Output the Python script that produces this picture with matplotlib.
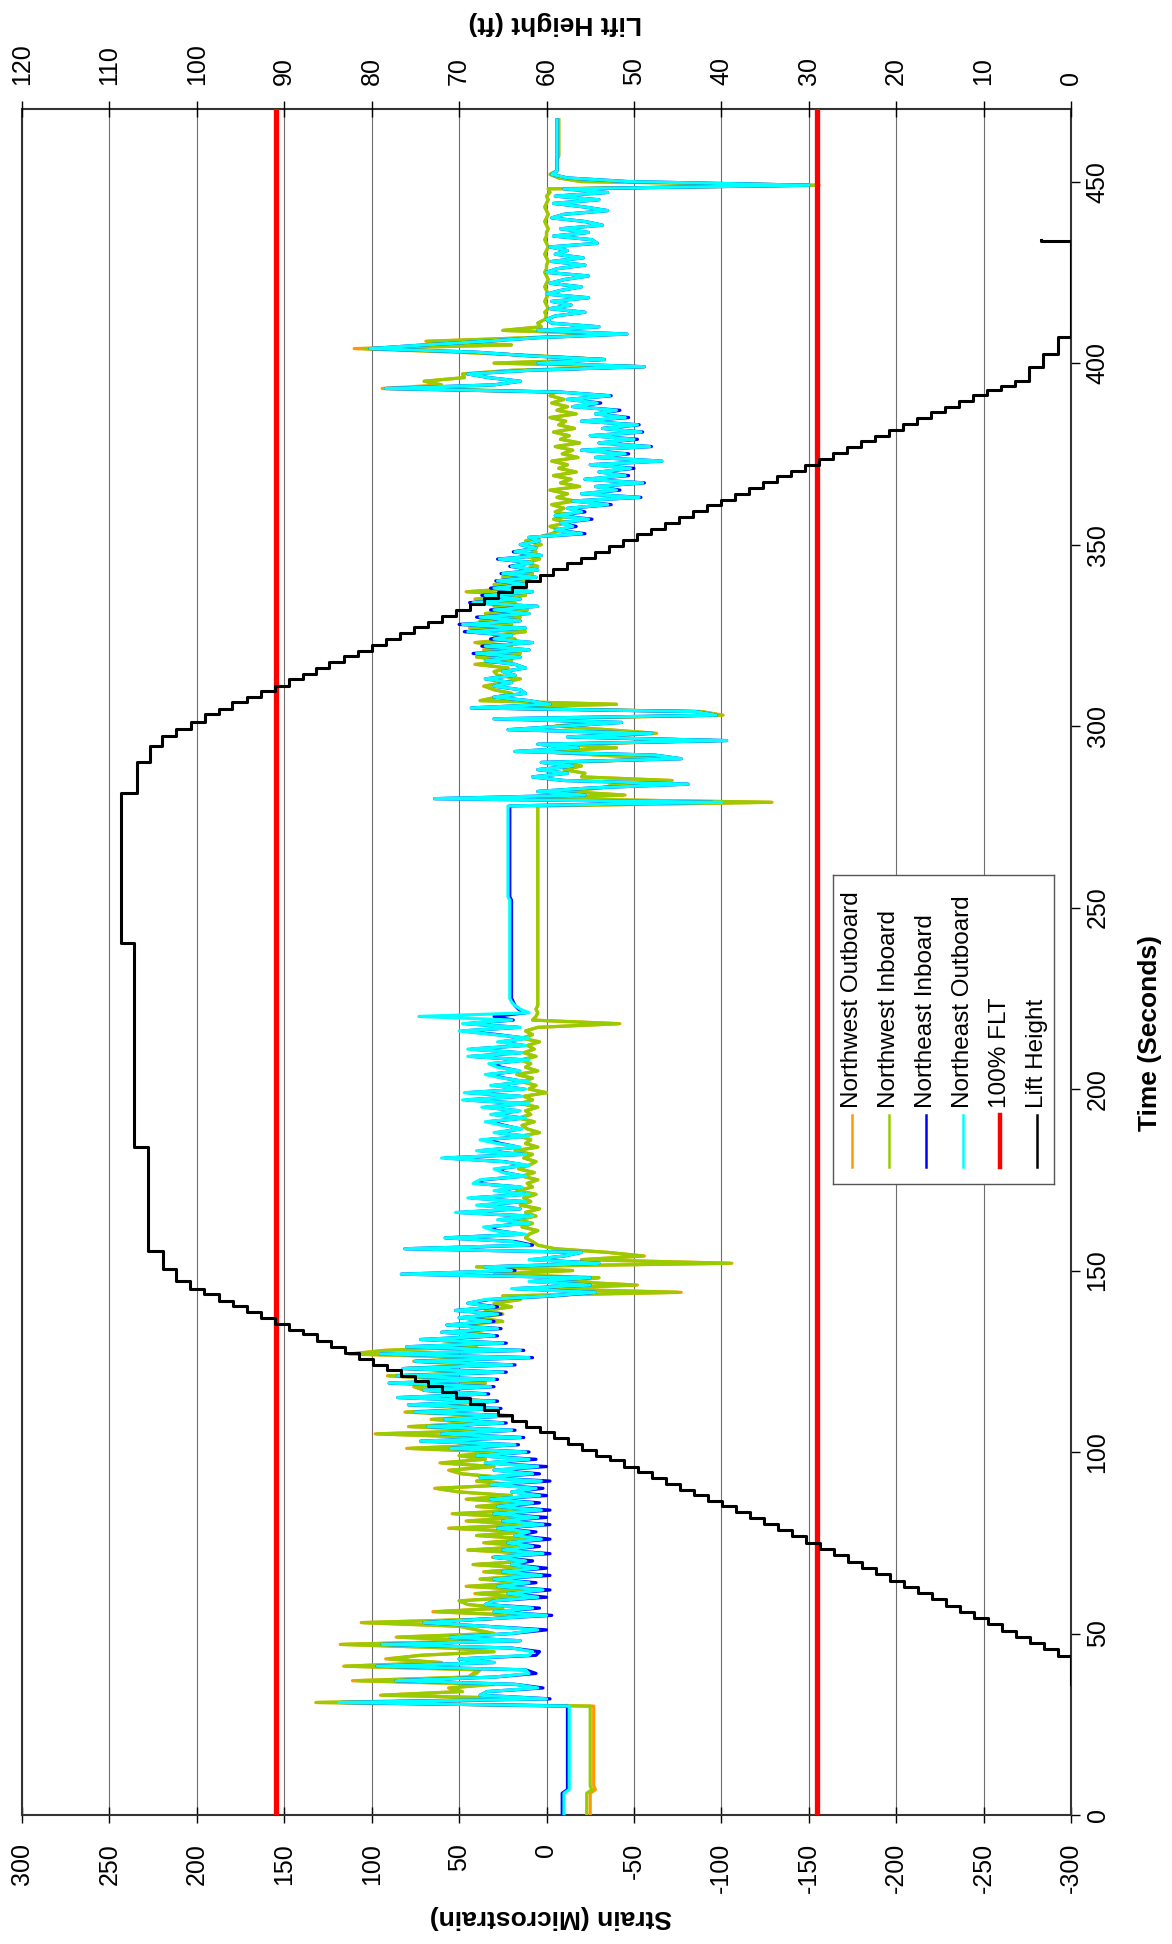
import numpy as np
import matplotlib
matplotlib.use("Agg")
import matplotlib.pyplot as plt
from matplotlib.lines import Line2D

plt.rcParams['font.family'] = ['Liberation Sans', 'DejaVu Sans']

# ---- strain gauge readings, one sample per second (microstrain) ----
time_s = np.arange(0, 468)

ne_outboard = [
    -10, -10, -10, -10, -10, -10, -10, -13, -13, -13,
    -13, -13, -13, -13, -13, -13, -13, -13, -13, -13,
    -13, -13, -13, -13, -13, -13, -13, -13, -13, -13,
    -13, 119, 0, 38, 34, 5, 18, 86, 30, 10,
    12, 97, 30, 50, 10, 8, 20, 94, 15, 55,
    20, 5, 35, 70, 35, 0, 30, 8, 35, 30,
    5, 22, 2, 28, 10, 30, 3, 25, 5, 20,
    12, 30, 2, 25, 8, 22, 3, 18, 10, 28,
    2, 25, 5, 30, 3, 28, 8, 32, 4, 20,
    6, 32, 3, 38, 8, 30, 5, 35, 10, 40,
    12, 55, 18, 72, 15, 60, 20, 68, 25, 58,
    22, 75, 28, 79, 30, 85, 35, 70, 32, 90,
    30, 85, 25, 82, 20, 75, 10, 95, 15, 80,
    25, 72, 30, 60, 28, 57, 32, 50, 28, 52,
    30, 45, 35, -2, -28, 20, -25, 10, -25, 83,
    20, 35, -30, 10, -10, -20, 81, 10, 20, 58,
    12, 30, 36, 10, 28, 8, 52, 15, 40, 12,
    45, 10, 30, 14, 42, 38, 12, 25, 30, 10,
    25, 60, 12, 40, 15, 28, 38, 10, 30, 14,
    25, 35, 12, 32, 15, 37, 10, 48, 14, 47,
    12, 32, 10, 25, 35, 15, 28, 33, 10, 45,
    14, 45, 12, 28, 10, 30, 50, 15, 48, 20,
    73, 10, 15, 18, 20, 21, 21, 21, 21, 21,
    21, 21, 21, 21, 21, 21, 21, 21, 21, 21,
    21, 21, 21, 21, 21, 21, 21, 21, 21, 21,
    21, 21, 21, 22, 22, 22, 22, 22, 22, 22,
    22, 22, 22, 22, 22, 22, 22, 22, 22, 22,
    22, 22, 22, 22, 22, 22, 22, 22, 22, -100,
    64, -22, 5, -27, -81, -10, 8, -12, 5, -15,
    3, -77, -62, 18, -18, 5, -103, -12, -60, 22,
    -10, -43, 30, -97, -85, 43, -2, 10, 30, 12,
    15, 30, 20, 35, 18, 25, 12, 18, 35, 15,
    40, 10, 35, 8, 30, 20, 45, 12, 48, 15,
    38, 10, 30, 5, 42, 15, 35, 8, 30, 12,
    28, 6, 25, 5, 20, 8, 27, 3, 18, 6,
    15, 4, 10, -20, -5, -15, -8, -24, -5, -20,
    -12, -35, -15, -53, -20, -40, -28, -55, -22, -45,
    -30, -48, -25, -66, -28, -45, -20, -59, -30, -50,
    -25, -54, -32, -52, -20, -45, -28, -40, -15, -29,
    -12, -36, -8, 92, 30, 15, 33, 45, 10, -56,
    5, -33, 10, 40, 101, 70, 35, 5, -46, 5,
    -30, -3, 0, -5, -22, -2, -14, -3, -24, 0,
    -8, -20, -2, -10, -24, 0, -6, -22, -3, -21,
    -5, -12, -2, -29, -26, -4, -24, -8, -32, -22,
    -3, -10, -35, -22, -4, -30, -5, -35, -10, -150,
    -47, -12, -3, -6, -6, -6, -6, -6, -6, -6,
    -6, -6, -6, -6, -6, -6, -6, -6,
]

ne_inboard = [
    -9, -9, -9, -9, -9, -9, -9, -12, -12, -12,
    -12, -12, -12, -12, -12, -12, -12, -12, -12, -12,
    -12, -12, -12, -12, -12, -12, -12, -12, -12, -12,
    -12, 117, -2, 38, 34, 2, 18, 86, 30, 6,
    12, 97, 30, 50, 6, 4, 20, 94, 15, 55,
    20, 0, 35, 70, 35, -3, 30, 4, 35, 30,
    0, 22, -2, 28, 6, 30, -2, 25, 0, 20,
    8, 30, -2, 25, 4, 22, -2, 18, 6, 28,
    -2, 25, 0, 30, -2, 28, 4, 32, 0, 20,
    2, 32, -2, 38, 4, 30, 0, 35, 6, 40,
    10, 55, 16, 72, 13, 60, 18, 68, 23, 58,
    20, 75, 26, 79, 28, 85, 33, 70, 30, 90,
    28, 85, 23, 82, 18, 75, 8, 95, 13, 80,
    23, 72, 28, 60, 26, 57, 30, 50, 26, 52,
    28, 45, 33, -4, -28, 18, -25, 8, -25, 83,
    18, 35, -30, 8, -10, -20, 81, 8, 18, 58,
    14, 28, 34, 12, 26, 10, 50, 15, 38, 13,
    43, 12, 28, 15, 40, 36, 13, 24, 28, 12,
    24, 58, 13, 38, 16, 26, 36, 12, 28, 15,
    24, 33, 13, 30, 16, 35, 12, 46, 15, 45,
    13, 30, 12, 24, 33, 16, 26, 31, 12, 43,
    15, 43, 13, 26, 12, 28, 48, 16, 46, 19,
    30, 12, 16, 18, 19, 20, 20, 20, 20, 20,
    20, 20, 20, 20, 20, 20, 20, 20, 20, 20,
    20, 20, 20, 20, 20, 20, 20, 20, 20, 20,
    20, 20, 20, 21, 21, 21, 21, 21, 21, 21,
    21, 21, 21, 21, 21, 21, 21, 21, 21, 21,
    21, 21, 21, 21, 21, 21, 21, 21, 21, -95,
    64, -22, 5, -27, -81, -10, 8, -12, 5, -15,
    3, -77, -62, 18, -18, 5, -103, -12, -60, 22,
    -10, -43, 30, -97, -85, 43, -2, 10, 30, 12,
    15, 30, 20, 35, 18, 25, 12, 18, 35, 15,
    42, 10, 37, 8, 32, 20, 47, 12, 50, 15,
    40, 10, 32, 5, 44, 15, 37, 8, 32, 12,
    29, 6, 26, 5, 21, 8, 28, 3, 19, 6,
    15, 4, 10, -22, -5, -17, -8, -26, -5, -22,
    -12, -37, -15, -54, -20, -42, -28, -56, -22, -47,
    -30, -50, -25, -66, -28, -47, -20, -60, -30, -52,
    -25, -55, -32, -53, -20, -47, -28, -42, -15, -31,
    -12, -37, -8, 92, 30, 15, 33, 45, 10, -56,
    5, -33, 10, 40, 101, 70, 35, 5, -46, 5,
    -30, -3, 0, -5, -22, -2, -14, -3, -24, 0,
    -8, -20, -2, -10, -24, 0, -6, -22, -3, -21,
    -5, -12, -2, -29, -26, -4, -24, -8, -32, -22,
    -3, -10, -35, -22, -4, -30, -5, -35, -10, -150,
    -47, -12, -3, -6, -6, -6, -6, -6, -6, -6,
    -6, -6, -6, -6, -6, -6, -6, -6,
]

nw_inboard = [
    -23, -23, -23, -23, -23, -23, -23, -26, -25, -25,
    -25, -25, -25, -25, -25, -25, -25, -25, -25, -25,
    -25, -25, -25, -25, -25, -25, -25, -25, -25, -25,
    -25, 131, 5, 94, 48, 55, 30, 108, 45, 40,
    38, 115, 60, 90, 72, 30, 55, 117, 35, 85,
    30, 40, 50, 105, 33, 15, 63, 25, 45, 50,
    15, 40, 10, 45, 12, 38, 8, 35, 10, 42,
    8, 30, 6, 45, 10, 35, 8, 40, 12, 55,
    10, 45, 15, 53, 12, 40, 15, 45, 20, 50,
    63, 20, 40, 25, 48, 55, 30, 60, 35, 50,
    25, 78, 30, 60, 35, 97, 28, 78, 40, 65,
    30, 80, 35, 70, 28, 75, 40, 70, 75, 35,
    55, 90, 30, 80, 40, 75, 35, 112, 92, 40,
    45, 65, 30, 45, 35, 50, 25, 40, 25, 35,
    20, 30, 15, 25, -75, 5, -51, -10, -30, 30,
    -15, 40, -105, -20, -55, -35, -5, 5, 8, 12,
    10, 5, 14, 8, 16, 6, 12, 4, 15, 9,
    13, 6, 17, 8, 11, 5, 14, 7, 16, 10,
    6, 13, 8, 18, 5, 12, 9, 15, 4, 11,
    14, 7, 16, 9, 12, 5, 15, 8, 13, 0,
    10, 6, 14, 8, 17, 5, 12, 9, 15, 6,
    13, 7, 11, 4, 14, 8, 12, 5, -41, 8,
    6, 5, 6, 5, 5, 5, 5, 5, 5, 5,
    5, 5, 5, 5, 5, 5, 5, 5, 5, 5,
    5, 5, 5, 5, 5, 5, 5, 5, 5, 5,
    5, 5, 5, 5, 5, 5, 5, 5, 5, 5,
    5, 5, 5, 5, 5, 5, 5, 5, 5, 5,
    5, 5, 5, 5, 5, 5, 5, 5, 5, -128,
    5, -44, -10, -32, -40, -71, -20, -22, -10, -20,
    -8, -70, -30, 5, -40, -10, -96, -15, -62, -35,
    -5, -30, 10, -100, -88, 40, -40, 38, 28, 20,
    30, 35, 25, 15, 28, 30, 22, 40, 20, 40,
    15, 35, 20, 40, 18, 30, 12, 43, 20, 38,
    15, 35, 11, 30, 18, 40, 12, 45, 15, 30,
    10, 25, 8, 15, 5, 12, 4, 14, 6, 10,
    3, 12, 5, -3, -8, -2, -12, -4, -15, -5,
    -10, -3, -16, -6, -12, -2, -19, -8, -14, -4,
    -17, -7, -12, -3, -18, -9, -15, -5, -19, -8,
    -13, -4, -16, -7, -11, -2, -17, -6, -12, -3,
    -10, -2, -5, 68, 60, 70, 47, 48, 20, -55,
    30, -33, 5, 50, 105, 20, 68, 10, -40, 25,
    3, 5, 1, 0, 1, -1, 0, 1, 0, -1,
    0, 1, 0, -1, 0, 1, 0, 0, -1, 0,
    1, 0, -1, 0, 1, 0, 0, -1, 0, 1,
    0, -1, 0, 1, 0, -1, 0, -2, -1, -154,
    -20, -7, -2, -6, -6, -6, -6, -7, -7, -7,
    -7, -7, -7, -7, -7, -7, -7, -7,
]

nw_outboard = [
    -25, -25, -25, -25, -25, -25, -25, -28, -27, -27,
    -27, -27, -27, -27, -27, -27, -27, -27, -27, -27,
    -27, -27, -27, -27, -27, -27, -27, -27, -27, -27,
    -27, 132, 5, 95, 50, 56, 32, 111, 45, 42,
    38, 116, 60, 92, 72, 30, 55, 118, 35, 86,
    30, 40, 50, 106, 33, 15, 65, 25, 45, 50,
    15, 41, 10, 46, 12, 38, 8, 36, 10, 42,
    8, 31, 6, 45, 10, 36, 8, 40, 12, 56,
    10, 46, 15, 54, 12, 40, 15, 46, 20, 50,
    64, 20, 40, 25, 49, 56, 30, 61, 35, 50,
    25, 80, 30, 60, 35, 98, 28, 79, 40, 66,
    30, 81, 35, 70, 28, 76, 40, 70, 76, 35,
    55, 91, 30, 81, 40, 76, 35, 113, 93, 40,
    45, 66, 30, 45, 35, 50, 25, 40, 25, 35,
    20, 30, 15, 25, -77, 5, -52, -10, -30, 30,
    -15, 40, -106, -20, -56, -35, -5, 5, 8, 12,
    10, 5, 14, 8, 16, 6, 12, 4, 15, 9,
    13, 6, 17, 8, 11, 5, 14, 7, 16, 10,
    6, 13, 8, 18, 5, 12, 9, 15, 4, 11,
    14, 7, 16, 9, 12, 5, 15, 8, 13, 0,
    10, 6, 14, 8, 17, 5, 12, 9, 15, 6,
    13, 7, 11, 4, 14, 8, 12, 5, -42, 8,
    6, 5, 6, 5, 5, 5, 5, 5, 5, 5,
    5, 5, 5, 5, 5, 5, 5, 5, 5, 5,
    5, 5, 5, 5, 5, 5, 5, 5, 5, 5,
    5, 5, 5, 5, 5, 5, 5, 5, 5, 5,
    5, 5, 5, 5, 5, 5, 5, 5, 5, 5,
    5, 5, 5, 5, 5, 5, 5, 5, 5, -129,
    5, -45, -10, -32, -40, -72, -20, -22, -10, -20,
    -8, -71, -30, 5, -40, -10, -97, -15, -63, -35,
    -5, -30, 10, -101, -89, 41, -40, 38, 28, 20,
    30, 36, 25, 15, 28, 30, 22, 41, 20, 40,
    15, 36, 20, 41, 18, 30, 12, 44, 20, 38,
    15, 35, 11, 30, 18, 41, 12, 46, 15, 30,
    10, 25, 8, 15, 5, 12, 4, 14, 6, 10,
    3, 12, 5, -3, -8, -2, -12, -4, -15, -5,
    -10, -3, -16, -6, -12, -2, -19, -8, -14, -4,
    -17, -7, -12, -3, -18, -9, -15, -5, -19, -8,
    -13, -4, -16, -7, -11, -2, -17, -6, -12, -3,
    -10, -2, -5, 94, 60, 70, 47, 48, 20, -56,
    30, -33, 5, 50, 110, 20, 69, 10, -41, 25,
    3, 5, 1, 0, 1, -1, 0, 1, 0, -1,
    0, 1, 0, -1, 0, 1, 0, 0, -1, 0,
    1, 0, -1, 0, 1, 0, 0, -1, 0, 1,
    0, -1, 0, 1, 0, -1, 0, -2, -1, -156,
    -20, -7, -2, -6, -6, -6, -6, -7, -7, -7,
    -7, -7, -7, -7, -7, -7, -7, -7,
]

# 100% FLT limits (microstrain)
flt_limits = [155, -155]

# ---- lift height: time each level starts (s) and level (ft) ----
lift_start = [
    36.0, 43.7, 45.6, 47.3, 49.0, 50.8, 52.5, 54.2, 56.0, 57.7,
    59.4, 61.2, 62.9, 64.6, 66.4, 68.1, 69.8, 71.6, 73.3, 75.0,
    76.9, 78.6, 80.2, 81.8, 83.4, 85.0, 86.6, 88.2, 89.6, 91.3,
    92.8, 94.4, 96.0, 97.7, 99.0, 100.6, 102.3, 103.9, 105.4, 106.9,
    108.5, 110.1, 111.7, 113.3, 114.8, 116.5, 118.1, 119.5, 121.0, 122.5,
    124.1, 125.6, 127.3, 128.9, 130.5, 132.4, 133.7, 135.4, 136.8, 138.5,
    140.2, 141.5, 143.4, 144.8, 147.1, 150.3, 155.3, 183.9, 240.3,
    281.6, 290.0, 294.4, 297.3, 299.2, 301.0, 303.3, 304.7, 306.5, 307.9,
    309.7, 311.1, 313.0, 314.4, 315.9, 317.6, 319.2, 320.8, 322.4, 324.0,
    325.6, 327.2, 328.8, 330.4, 332.0, 333.6, 335.2, 336.8, 338.4, 340.0,
    341.6, 343.2, 344.8, 346.4, 348.0, 349.6, 351.2, 352.8, 354.4, 356.0,
    357.6, 359.2, 360.8, 362.4, 364.0, 365.6, 367.2, 368.8, 370.4, 372.0,
    373.6, 375.2, 376.8, 378.4, 380.0, 381.6, 383.2, 384.8, 386.4, 388.0,
    389.6, 391.2, 392.6, 393.8, 395.2, 398.9, 402.6, 407.2, 433.7,
]
lift_level = [
    0.0, 1.5, 3.1, 4.7, 6.3, 7.9, 9.5, 11.1, 12.7, 14.3,
    15.9, 17.5, 19.1, 20.7, 22.3, 23.9, 25.5, 27.1, 28.7, 30.3,
    31.9, 33.5, 35.1, 36.7, 38.3, 39.9, 41.5, 43.1, 44.7, 46.3,
    47.9, 49.5, 51.1, 52.7, 54.3, 55.9, 57.5, 59.1, 60.7, 62.3,
    63.9, 65.5, 67.1, 68.7, 70.3, 71.9, 73.5, 75.1, 76.7, 78.3,
    79.9, 81.5, 83.1, 84.7, 86.3, 87.9, 89.5, 91.1, 92.7, 94.3,
    95.9, 97.5, 99.2, 100.8, 102.4, 103.9, 105.6, 107.2, 108.7,
    106.9, 105.4, 104.0, 102.4, 100.7, 99.1, 97.5, 96.0, 94.3, 92.7,
    91.1, 89.5, 87.9, 86.4, 84.9, 83.2, 81.6, 80.0, 78.4, 76.8,
    75.2, 73.6, 72.0, 70.4, 68.8, 67.2, 65.6, 64.0, 62.4, 60.8,
    59.2, 57.6, 56.0, 54.4, 52.8, 51.2, 49.6, 48.0, 46.4, 44.8,
    43.2, 41.6, 40.0, 38.4, 36.8, 35.2, 33.6, 32.0, 30.4, 28.8,
    27.2, 25.6, 24.0, 22.4, 20.8, 19.2, 17.6, 16.0, 14.4, 12.8,
    11.2, 9.6, 8.0, 6.4, 4.8, 3.2, 1.5, 0.0, 3.4,
]
lift_end = 433.9

strain_series = [
    ("Northwest Outboard", nw_outboard, "#FF9900"),
    ("Northwest Inboard", nw_inboard, "#99CC00"),
    ("Northeast Inboard", ne_inboard, "#0000FF"),
    ("Northeast Outboard", ne_outboard, "#00FFFF"),
]

W, H = 1172, 1944
fig = plt.figure(figsize=(W / 100, H / 100), dpi=100)


def fx(px):
    return px / W


def fy(py):
    return 1 - py / H


# plot area (page is turned: time runs up, strain runs right-to-left)
left, right, top, bottom = 22, 1071, 109, 1815
ax = fig.add_axes([fx(left), fy(bottom), fx(right - left), (bottom - top) / H])
ax.set_xlim(300, -300)
ax.set_ylim(0, 470)

for name, vals, color in strain_series:
    ax.plot(vals, time_s, color=color, lw=2.3, zorder=3)
for lim in flt_limits:
    ax.plot([lim, lim], [0, 470], color="#FF0000", lw=3.8, zorder=4)

ax.set_xticks(range(-300, 301, 50))
ax.set_xticklabels([str(v) for v in range(-300, 301, 50)])
ax.grid(axis="x", color="#6e6e6e", lw=0.8, zorder=0)
ax.set_axisbelow(True)
ax.tick_params(axis="x", direction="inout", length=11, width=1, pad=14.5,
               labelsize=18, labelrotation=90)
ax.yaxis.tick_right()
ax.set_yticks(range(0, 451, 50))
ax.tick_params(axis="y", direction="out", length=6.5, width=1, pad=4,
               labelsize=18, labelrotation=90)
for lbl in ax.get_yticklabels():
    lbl.set_va("center")
for sp in ax.spines.values():
    sp.set_color("#333333")
    sp.set_linewidth(1.5)

# lift height on the secondary axis
ax2 = ax.twiny()
ax2.set_xlim(120, 0)
ax2.set_ylim(0, 470)
starts = np.array(lift_start)
ends = np.append(starts[1:], lift_end)
path_t = np.column_stack([starts, ends]).ravel()
path_h = np.repeat(np.array(lift_level), 2)
ax2.plot(path_h, path_t, color="black", lw=2.2, zorder=5)
ax2.set_xticks(range(0, 121, 10))
ax2.tick_params(axis="x", direction="inout", length=11, width=1, pad=12,
                labelsize=18, labelrotation=90)
for sp in ax2.spines.values():
    sp.set_visible(False)

# axis titles
fig.text(fx(551), fy(1917), "Strain (Microstrain)", rotation=180,
         ha="center", va="center", fontsize=19, fontweight="bold")
fig.text(fx(555), fy(23), "Lift Height (ft)", rotation=180,
         ha="center", va="center", fontsize=19, fontweight="bold")
fig.text(fx(1150), fy(1033), "Time (Seconds)", rotation=90,
         ha="center", va="center", fontsize=19, fontweight="bold")

# legend box
lx0, ly0, lx1, ly1 = 833, 875, 1054, 1184
lax = fig.add_axes([fx(lx0), fy(ly1), fx(lx1 - lx0), (ly1 - ly0) / H])
lax.set_xlim(0, lx1 - lx0)
lax.set_ylim(ly1 - ly0, 0)
lax.set_xticks([])
lax.set_yticks([])
lax.set_facecolor("white")
for sp in lax.spines.values():
    sp.set_color("#555555")
    sp.set_linewidth(1.0)

legend_items = [(n, c, 1.8) for n, _, c in strain_series]
legend_items += [("100% FLT", "#FF0000", 3.2), ("Lift Height", "black", 1.8)]
for i, (name, color, lw) in enumerate(legend_items):
    x = 19 + i * 37
    lax.add_line(Line2D([x, x], [240, 292], color=color, lw=lw))
    lax.text(x, 233, name, rotation=90, ha="center", va="bottom", fontsize=17.5)

fig.savefig("out.png", dpi=100)
